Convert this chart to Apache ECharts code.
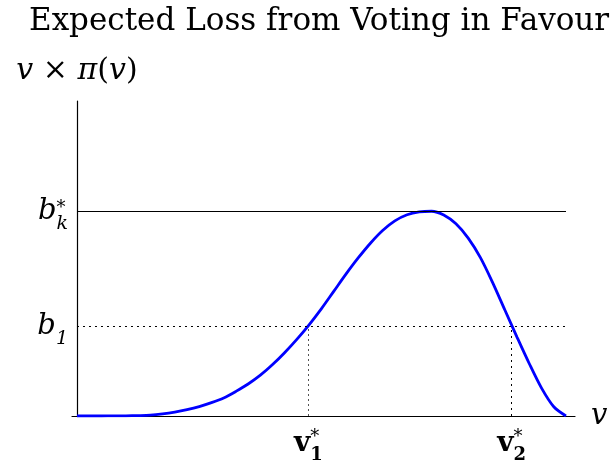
<!DOCTYPE html>
<html><head><meta charset="utf-8">
<script src="https://cdn.jsdelivr.net/npm/echarts@6/dist/echarts.min.js"></script>
<style>html,body{margin:0;padding:0;background:#fff}#c{width:612px;height:470px}</style>
</head><body><div id="c"></div>
<script>
// curve samples: v (0..1) and v*pi(v) relative to b_k* = 1
const vValues = [0, 0.025, 0.05, 0.075, 0.10, 0.125, 0.15, 0.175, 0.20, 0.225, 0.25, 0.275, 0.30, 0.325, 0.35, 0.375, 0.40, 0.425, 0.45, 0.475, 0.50,
  0.525, 0.55, 0.575, 0.60, 0.625, 0.65, 0.675, 0.70, 0.725, 0.75, 0.775, 0.80, 0.825, 0.85, 0.875, 0.90, 0.925, 0.95, 0.975, 1.0];
const lossValues = [0, 0, 0, 0.0005, 0.001, 0.002, 0.004, 0.010, 0.019, 0.031, 0.046, 0.065, 0.088, 0.120, 0.156, 0.199, 0.251, 0.310, 0.375, 0.446, 0.524,
  0.608, 0.692, 0.771, 0.843, 0.905, 0.952, 0.982, 0.996, 0.999, 0.981, 0.938, 0.868, 0.773, 0.651, 0.517, 0.384, 0.255, 0.136, 0.045, 0.0];
const bk = 1.0;        // b_k*
const b1 = 0.439;      // b_1
const v1 = 0.473;      // v_1*
const v2 = 0.889;      // v_2*
const yTickValues = [b1, bk];
const xTickValues = [v1, v2];
const titleText = 'Expected Loss from Voting in Favour';

const serif = 'DejaVu Serif';
const chart = echarts.init(document.getElementById('c'), null, {renderer: 'canvas'});
const dotted = {color: '#000', width: 1, type: [2, 4]};
chart.setOption({
  animation: false,
  title: {text: titleText, left: 24, top: 1,
    textStyle: {fontFamily: serif, fontWeight: 'normal', fontSize: 31, color: '#000'}},
  grid: {left: 72, right: 37, top: 101, bottom: 54},
  xAxis: {type: 'value', min: -0.0102, max: 1.0184,
    name: 'v', nameLocation: 'end', nameGap: 16,
    nameTextStyle: {fontFamily: serif, fontStyle: 'italic', fontSize: 29, color: '#000', verticalAlign: 'middle', padding: [0,0,6,0]},
    axisLine: {lineStyle: {color: '#000', width: 1.2}},
    axisTick: {show: false}, splitLine: {show: false},
    axisLabel: {customValues: xTickValues, margin: 8, color: '#000',
      formatter: v => (Math.abs(v - v1) < 1e-6 ? '{v|v}{sup|*}{sub|1}' : '{v|v}{sup|*}{sub|2}'),
      rich: {
        v: {fontFamily: serif, fontWeight: 'bold', fontSize: 28, color: '#000', align: 'left'},
        sup: {fontFamily: serif, fontSize: 18, color: '#000', width: 0, align: 'left', padding: [0,0,14,0]},
        sub: {fontFamily: serif, fontWeight: 'bold', fontSize: 18, color: '#000', align: 'left', padding: [22,0,0,0]}
      }}
  },
  yAxis: {type: 'value', min: 0, max: 1.537,
    name: '{i|v} × {i|π}({i|v})', nameLocation: 'end', nameGap: 15,
    nameTextStyle: {fontFamily: serif, fontSize: 30, color: '#000', align: 'center',
      rich: {i: {fontFamily: serif, fontStyle: 'italic', fontSize: 30, color: '#000'}}},
    axisLine: {onZero: true, lineStyle: {color: '#000', width: 1.2}},
    axisTick: {show: false}, splitLine: {show: false},
    axisLabel: {customValues: yTickValues, margin: 4, color: '#000',
      formatter: v => (Math.abs(v - bk) < 1e-6 ? '{b|b}{sup|*}{sub|k}' : '{b|b}{sub|1}'),
      rich: {
        b: {fontFamily: serif, fontStyle: 'italic', fontSize: 29, color: '#000', align: 'left'},
        sup: {fontFamily: serif, fontSize: 18, color: '#000', width: 0, align: 'left', padding: [0,0,6,0]},
        sub: {fontFamily: serif, fontStyle: 'italic', fontSize: 19, color: '#000', align: 'left', padding: [26,0,0,0]}
      }}
  },
  series: [{
    type: 'line', data: vValues.map((v, i) => [v, lossValues[i]]),
    smooth: 0.3, symbol: 'none',
    lineStyle: {color: '#0000ff', width: 2.8},
    markLine: {silent: true, symbol: 'none', label: {show: false},
      data: [
        [{coord: [0, bk], lineStyle: {color: '#000', width: 1, type: 'solid'}}, {coord: [1, bk]}],
        [{coord: [0, b1], lineStyle: dotted}, {coord: [1, b1]}],
        [{coord: [v1, 0], lineStyle: {color: '#555', width: 1, type: [2, 3]}}, {coord: [v1, b1]}],
        [{coord: [v2, 0], lineStyle: {color: '#000', width: 1, type: [2, 4]}}, {coord: [v2, b1]}]
      ]}
  }]
});
</script></body></html>
